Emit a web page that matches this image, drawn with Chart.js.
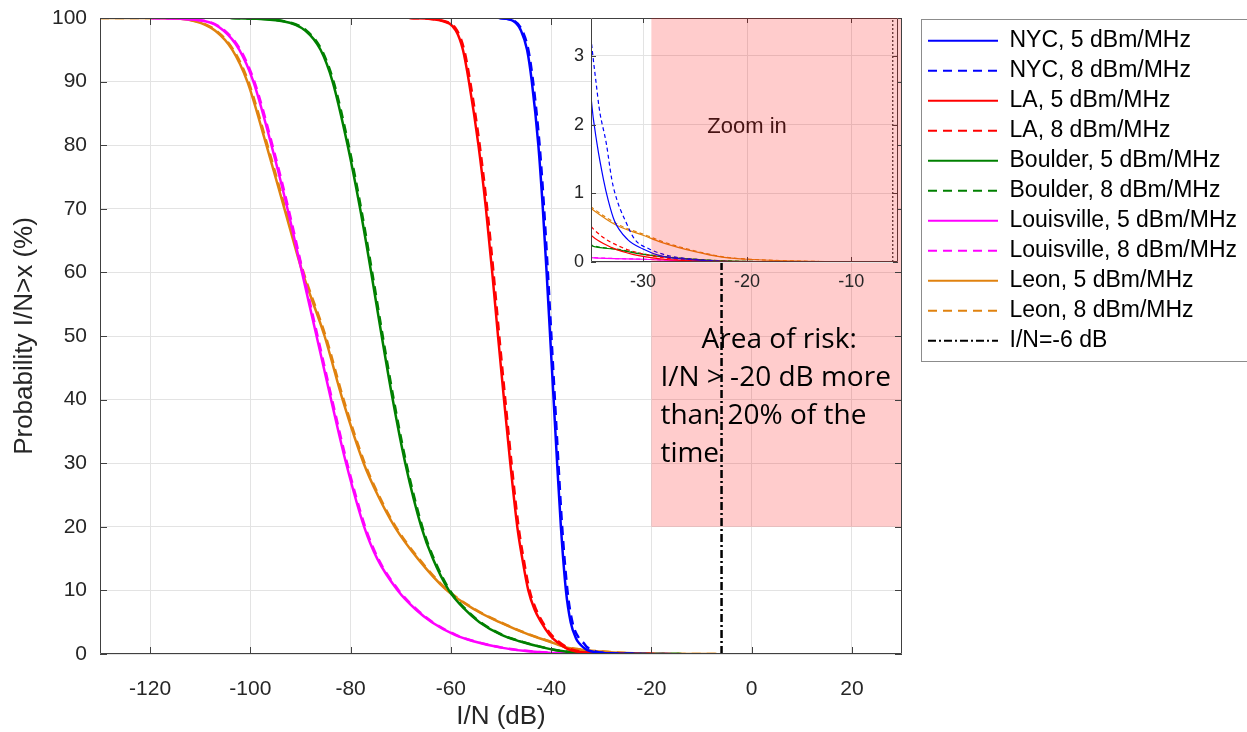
<!DOCTYPE html>
<html>
<head>
<meta charset="utf-8">
<script src="https://cdn.jsdelivr.net/npm/chart.js@4.4.1/dist/chart.umd.min.js"></script>
<style>
  body { margin: 0; background: #fff; }
  #wrap { position: relative; width: 1247px; height: 732px; overflow: hidden; }
  #mainChart { position: absolute; left: 0; top: 0; }
  #zoomChart { position: absolute; left: 540px; top: 0; }
</style>
</head>
<body>
<div id="wrap">
  <canvas id="mainChart" width="1247" height="732"></canvas>
  <canvas id="zoomChart" width="370" height="310"></canvas>
</div>
<script>
// 目盛り
const xTicks = [-120, -100, -80, -60, -40, -20, 0, 20];
const yTicks = [0, 10, 20, 30, 40, 50, 60, 70, 80, 90, 100];
const zoomXTicks = [-30, -20, -10];
const zoomYTicks = [0, 1, 2, 3];

// 各都市: 確率レベル(%) と、そのレベルになる I/N (dB) を 5 dBm/MHz と 8 dBm/MHz で
// NYC
const nycLevels = [100, 99.5, 98, 95, 90, 80, 70, 60, 50, 40, 30, 20, 10, 5, 2.4, 1.7, 1.2, 0.9, 0.6, 0.33, 0.19, 0.09, 0.03, 0];
const nycX5 = [-50.4, -47.5, -46.0, -44.8, -43.85, -42.55, -41.65, -40.9, -40.2, -39.5, -38.8, -38.05, -37.05, -36.1, -35.0, -34.4, -33.8, -33.35, -32.75, -31.5, -30.0, -28.3, -25.0, -22.0];
const nycX8 = [-50.2, -47.3, -45.75, -44.55, -43.6, -42.3, -41.4, -40.65, -39.95, -39.25, -38.55, -37.8, -36.75, -35.75, -34.35, -33.5, -33.0, -32.5, -31.7, -30.8, -29.4, -27.5, -24.3, -21.0];

// LA
const laLevels = [100, 99.5, 98, 95, 90, 80, 70, 60, 50, 40, 30, 20, 15, 10, 7, 5, 3, 2, 1, 0.6, 0.39, 0.21, 0.11, 0.04, 0.015, 0];
const laX5 = [-68.3, -61.5, -59.0, -57.6, -56.4, -54.5, -53.0, -51.75, -50.6, -49.4, -48.15, -46.75, -45.75, -44.55, -43.3, -42.0, -40.3, -39.0, -37.2, -36.1, -35.0, -33.0, -31.0, -28.0, -25.0, -20.0];
const laX8 = [-68.1, -61.25, -58.75, -57.35, -56.15, -54.25, -52.75, -51.5, -50.35, -49.15, -47.9, -46.5, -45.5, -44.3, -43.0, -41.7, -39.95, -38.6, -36.75, -35.4, -34.1, -32.0, -29.8, -26.8, -23.5, -19.0];

// Boulder
const boulderLevels = [100, 99.5, 98, 95, 90, 80, 70, 60, 50, 40, 30, 20, 15, 10, 7, 5, 3, 2, 1, 0.5, 0.24, 0.18, 0.11, 0.06, 0.02, 0.005, 0];
const boulderX5 = [-104, -93.5, -89.0, -86.0, -83.6, -80.6, -78.1, -75.9, -73.8, -71.6, -69.1, -65.9, -63.6, -60.4, -57.2, -54.3, -49.9, -46.3, -41.5, -38.3, -35.0, -32.5, -30.0, -27.0, -23.0, -18.0, -14.0];
const boulderX8 = [-103.8, -93.3, -88.8, -85.8, -83.4, -80.4, -77.9, -75.7, -73.6, -71.4, -68.9, -65.7, -63.4, -60.2, -57.0, -54.1, -49.7, -46.1, -41.3, -38.1, -34.8, -32.2, -29.7, -26.7, -22.7, -17.7, -13.7];

// Louisville
const louLevels = [100, 99.5, 98, 95, 90, 80, 70, 60, 50, 40, 30, 20, 15, 10, 7, 5, 3, 2, 1, 0.5, 0.2, 0.1, 0.065, 0.04, 0.015, 0.005, 0];
const louX5 = [-120, -109.0, -105.3, -102.2, -99.4, -95.8, -92.6, -89.7, -86.8, -83.9, -80.9, -77.3, -74.7, -70.6, -67.0, -63.8, -59.2, -55.5, -50.0, -45.5, -40.5, -37.0, -35.0, -30.0, -25.0, -20.0, -16.0];
const louX8 = [-119.8, -108.8, -105.1, -102.0, -99.2, -95.6, -92.4, -89.5, -86.6, -83.7, -80.7, -77.1, -74.5, -70.4, -66.8, -63.6, -59.0, -55.3, -49.8, -45.2, -40.2, -36.7, -34.7, -29.7, -24.7, -19.7, -15.7];

// Leon
const leonLevels = [100, 100, 99.5, 98, 95, 90, 80, 70, 60, 50, 40, 30, 25, 20, 15, 10, 7, 5, 3, 2, 1, 0.78, 0.53, 0.39, 0.29, 0.15, 0.07, 0.04, 0.012, 0.003, 0];
const leonX5 = [-130, -118, -111.0, -107.0, -103.6, -100.6, -96.8, -93.2, -89.6, -85.2, -81.6, -77.4, -74.6, -71.2, -66.6, -60.8, -55.3, -50.3, -44.3, -40.5, -36.8, -35.0, -32.5, -30.0, -28.3, -25.0, -22.4, -20.0, -15.0, -10.0, -7.0];
const leonX8 = [-130, -117.8, -110.8, -106.8, -103.4, -100.4, -96.6, -93.0, -89.4, -85.0, -81.4, -77.2, -74.4, -71.0, -66.4, -60.6, -55.1, -50.1, -44.1, -40.3, -36.6, -34.8, -32.2, -29.7, -28.0, -24.7, -22.1, -19.7, -14.7, -9.7, -7.0];

// I/N=-6 dB の縦線
const thresholdX = [-6, -6];
const thresholdY = [0, 100];

// リスク領域 (x: -20..30, y: 20..100)
const riskX = [-20, 30];
const riskY = [20, 100];

const cities = [
    { name: 'NYC', color: '#0000ff', levels: nycLevels, x5: nycX5, x8: nycX8 },
    { name: 'LA', color: '#ff0000', levels: laLevels, x5: laX5, x8: laX8 },
    { name: 'Boulder', color: '#008000', levels: boulderLevels, x5: boulderX5, x8: boulderX8 },
    { name: 'Louisville', color: '#ff00ff', levels: louLevels, x5: louX5, x8: louX8 },
    { name: 'Leon', color: '#e0820f', levels: leonLevels, x5: leonX5, x8: leonX8 }
];

Chart.defaults.font.family = '"Liberation Sans", Arial, sans-serif';
Chart.defaults.color = '#262626';

function toPoints(xs, ys) {
    return xs.map((x, i) => ({ x: x, y: ys[i] }));
}

// データセット作成(メインとズームで線の太さ・破線を変える)
function buildDatasets(width, dash, threshWidth, threshDash) {
    const sets = [];
    cities.forEach(c => {
        [['5', c.x5, []], ['8', c.x8, dash]].forEach(([p, xs, d]) => {
            sets.push({
                label: c.name + ', ' + p + ' dBm/MHz',
                data: toPoints(xs, c.levels),
                borderColor: c.color,
                backgroundColor: c.color,
                borderWidth: width,
                borderDash: d,
                pointRadius: 0,
                fill: false,
                cubicInterpolationMode: 'monotone'
            });
        });
    });
    sets.push({
        label: 'I/N=-6 dB',
        data: toPoints(thresholdX, thresholdY),
        borderColor: '#000000',
        backgroundColor: '#000000',
        borderWidth: threshWidth,
        borderDash: threshDash,
        pointRadius: 0,
        fill: false,
        tension: 0
    });
    return sets;
}

// 枠線と内向きの目盛り線
function drawFrame(chart, xt, yt, len) {
    const { ctx, chartArea: a, scales: { x, y } } = chart;
    ctx.save();
    ctx.strokeStyle = '#404040';
    ctx.lineWidth = 1;
    ctx.setLineDash([]);
    ctx.beginPath();
    ctx.rect(a.left + 0.5, a.top + 0.5, a.width - 1, a.height - 1);
    xt.forEach(v => {
        const px = Math.round(x.getPixelForValue(v)) + 0.5;
        ctx.moveTo(px, a.bottom); ctx.lineTo(px, a.bottom - len);
        ctx.moveTo(px, a.top); ctx.lineTo(px, a.top + len);
    });
    yt.forEach(v => {
        const py = Math.round(y.getPixelForValue(v)) + 0.5;
        ctx.moveTo(a.left, py); ctx.lineTo(a.left + len, py);
        ctx.moveTo(a.right, py); ctx.lineTo(a.right - len, py);
    });
    ctx.stroke();
    ctx.restore();
}

const mainDecor = {
    id: 'mainDecor',
    beforeDatasetsDraw(chart) {
        const { ctx, scales: { x, y } } = chart;
        const l = x.getPixelForValue(riskX[0]), r = x.getPixelForValue(riskX[1]);
        const t = y.getPixelForValue(riskY[1]), b = y.getPixelForValue(riskY[0]);
        ctx.save();
        ctx.fillStyle = 'rgba(255, 0, 0, 0.2)';
        ctx.fillRect(l, t, r - l, b - t);
        ctx.restore();
    },
    afterDatasetsDraw(chart) {
        const { ctx, scales: { x, y } } = chart;
        ctx.save();
        ctx.fillStyle = '#000';
        ctx.font = '28px "Open Sans", sans-serif';
        ctx.textBaseline = 'middle';
        ctx.textAlign = 'center';
        ctx.fillText('Area of risk:', x.getPixelForValue(5.5), y.getPixelForValue(49.4));
        ctx.textAlign = 'left';
        const lx = x.getPixelForValue(-18.2);
        ctx.fillText('I/N > -20 dB more', lx, y.getPixelForValue(43.4));
        ctx.fillText('than 20% of the', lx, y.getPixelForValue(37.4));
        ctx.fillText('time', lx, y.getPixelForValue(31.4));
        ctx.restore();
    },
    afterDraw(chart) {
        drawFrame(chart, xTicks, yTicks, 7);
        // 凡例の枠
        const lg = chart.legend;
        const ctx = chart.ctx;
        ctx.save();
        ctx.strokeStyle = '#8c8c8c';
        ctx.lineWidth = 1;
        ctx.strokeRect(Math.round(lg.left) + 0.5, 19.5, 400, 342);
        ctx.restore();
    }
};

const mainChart = new Chart(document.getElementById('mainChart'), {
    type: 'line',
    data: { datasets: buildDatasets(2.5, [9, 6], 2.5, [8, 3, 2, 3]) },
    options: {
        responsive: false,
        animation: false,
        devicePixelRatio: 1,
        events: [],
        layout: { padding: { top: 18, left: 0, right: 8, bottom: 0 } },
        scales: {
            x: {
                type: 'linear',
                min: -130,
                max: 30,
                afterBuildTicks: s => { s.ticks = xTicks.map(v => ({ value: v })); },
                afterFit: s => { s.height = 78; },
                ticks: { font: { size: 21 }, padding: 5 },
                grid: { color: '#e3e3e3', drawTicks: true, tickLength: 18, tickColor: 'rgba(0,0,0,0)' },
                border: { display: false },
                title: { display: true, text: 'I/N (dB)', font: { size: 26 }, padding: { top: 0, bottom: 0 } }
            },
            y: {
                type: 'linear',
                min: 0,
                max: 100,
                afterBuildTicks: s => { s.ticks = yTicks.map(v => ({ value: v })); },
                afterFit: s => { s.width = 100; },
                ticks: { font: { size: 21 }, padding: 5 },
                grid: { color: '#e3e3e3', drawTicks: true, tickLength: 8, tickColor: 'rgba(0,0,0,0)' },
                border: { display: false },
                title: { display: true, text: 'Probability I/N>x (%)', font: { size: 26 }, padding: { top: 9, bottom: 0 } }
            },
            // 凡例との隙間用
            yPad: {
                position: 'right',
                display: true,
                afterFit: s => { s.width = 19; },
                ticks: { display: false },
                grid: { display: false },
                border: { display: false }
            }
        },
        plugins: {
            tooltip: { enabled: false },
            legend: {
                position: 'right',
                align: 'start',
                maxWidth: 318,
                title: { display: true, text: '', font: { size: 1 }, padding: { top: 3, bottom: 0 } },
                labels: {
                    usePointStyle: true,
                    pointStyle: 'line',
                    pointStyleWidth: 70,
                    padding: 7,
                    color: '#000',
                    font: { size: 23 },
                    // 破線を凡例にも反映
                    generateLabels(chart) {
                        const items = Chart.defaults.plugins.legend.labels.generateLabels(chart);
                        items.forEach(it => {
                            const ds = chart.data.datasets[it.datasetIndex];
                            it.lineDash = ds.borderDash;
                            it.strokeStyle = ds.borderColor;
                            it.lineWidth = 2;
                        });
                        return items;
                    }
                }
            }
        }
    },
    plugins: [mainDecor]
});

const zoomCanvas = document.getElementById('zoomChart');

const zoomDecor = {
    id: 'zoomDecor',
    beforeDraw(chart) {
        const { ctx, chartArea: a } = chart;
        ctx.save();
        ctx.fillStyle = '#fff';
        ctx.fillRect(a.left, a.top, a.width, a.height);
        ctx.restore();
    },
    afterDraw(chart) {
        const { ctx, chartArea: a, scales: { x, y } } = chart;
        drawFrame(chart, zoomXTicks, zoomYTicks, 5);
        ctx.save();
        ctx.fillStyle = '#1a1a1a';
        ctx.font = '22px "Liberation Sans", Arial, sans-serif';
        ctx.textAlign = 'center';
        ctx.textBaseline = 'middle';
        ctx.fillText('Zoom in', x.getPixelForValue(-20), y.getPixelForValue(1.96));
        // メイン側のリスク領域を重ねる(白背景の部分だけ)
        const mx = mainChart.scales.x, my = mainChart.scales.y;
        const ox = zoomCanvas.offsetLeft, oy = zoomCanvas.offsetTop;
        const l = mx.getPixelForValue(riskX[0]) - ox, r = mx.getPixelForValue(riskX[1]) - ox;
        const t = my.getPixelForValue(riskY[1]) - oy, b = my.getPixelForValue(riskY[0]) - oy;
        ctx.beginPath();
        ctx.rect(a.left, a.top, a.width, a.height);
        ctx.clip();
        ctx.fillStyle = 'rgba(255, 0, 0, 0.2)';
        ctx.fillRect(l, t, r - l, b - t);
        ctx.restore();
    }
};

new Chart(zoomCanvas, {
    type: 'line',
    data: { datasets: buildDatasets(1.2, [4, 3], 1, [2, 2]) },
    options: {
        responsive: false,
        animation: false,
        devicePixelRatio: 1,
        events: [],
        layout: { padding: { top: 18, left: 0, right: 12, bottom: 0 } },
        scales: {
            x: {
                type: 'linear',
                min: -35,
                max: -5.5,
                afterBuildTicks: s => { s.ticks = zoomXTicks.map(v => ({ value: v })); },
                afterFit: s => { s.height = 48; },
                ticks: { font: { size: 18 }, padding: 9 },
                grid: { color: '#e3e3e3', drawTicks: false },
                border: { display: false }
            },
            y: {
                type: 'linear',
                min: 0,
                max: 3.55,
                afterBuildTicks: s => { s.ticks = zoomYTicks.map(v => ({ value: v })); },
                afterFit: s => { s.width = 51; },
                ticks: { font: { size: 18 }, padding: 7 },
                grid: { color: '#e3e3e3', drawTicks: false },
                border: { display: false }
            }
        },
        plugins: {
            tooltip: { enabled: false },
            legend: { display: false }
        }
    },
    plugins: [zoomDecor]
});
</script>
</body>
</html>
